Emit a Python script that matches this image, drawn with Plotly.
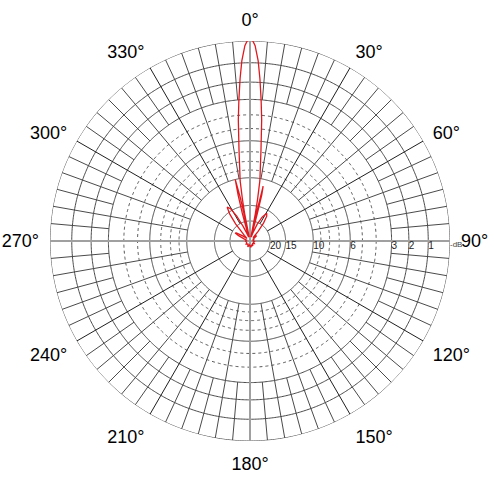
import numpy as np
import plotly.graph_objects as go

# ---------------- data ----------------
# radiation pattern: bearing (deg) and relative level (dB)
pattern_deg = [0, 1.5, 2.6, 3.5, 4.5, 5.5, 6.9, 8.0, 9.3, 10.3, 11.0, 11.6, 12.2, 12.8, 13.5, 14.3,
               15.0, 15.8, 16.5, 19, 23, 27, 31, 34, 37, 40, 43, 47, 51, 55, 60, 70, 80, 95, 105,
               120, 135, 150, 160, 170, 180, 190, 200, 215, 230, 250, 270, 285, 290, 295, 298,
               301, 305, 310, 315, 320, 323, 326, 329, 332, 335, 338, 341, 343.5, 344.5, 345.5,
               346.5, 347.4, 347.9, 348.3, 349, 349.7, 350.7, 352, 353.1, 354.5, 355.5, 356.5,
               357.4, 358.5, 360]
pattern_db = [0.25, -0.2, -0.9, -1.8, -3.0, -4.3, -6.8, -8.6, -10.3, -13.5, -17, -24, -34, -18, -11, -12.5,
              -17, -26, -34, -28, -21, -17.5, -15.8, -16.5, -19, -24, -33, -29, -27.5, -31, -36, -34, -36, -33, -35,
              -32, -35, -31, -34, -30, -32, -34, -30, -35, -32, -35, -33, -35, -30, -24, -21.5,
              -22, -27, -34, -28, -19, -15.5, -13.8, -14.5, -17, -22, -28, -34, -26, -17, -12.5,
              -10, -13, -22, -34, -17, -13.5, -10.3, -8.6, -6.8, -4.3, -3.0, -1.8,
              -0.9, -0.2, 0.25]

# grid rings (dB down)
solid_rings_db = [0, 1, 2, 3, 6, 10, 15, 20]
dotted_rings_db = [4, 5, 7, 8, 9]
ring_labels_db = [20, 15, 10, 6, 3, 2, 1]
angle_ticks = list(range(0, 360, 30))
angle_labels = [f"{a}°" for a in angle_ticks]

# spokes: starting ring (dB down) for 30°, 10° and 5° spokes
spoke_30_start_db = 20
spoke_10_start_db = 10
spoke_5_start_db = 3


def lin(db_down):
    return 10 ** (-db_down / 20.0)


fig = go.Figure()

full = np.linspace(0, 360, 721)

# solid rings
r_s, t_s = [], []
for d in solid_rings_db:
    r_s += [lin(d)] * len(full) + [None]
    t_s += list(full) + [None]
fig.add_trace(go.Scatterpolar(r=r_s, theta=t_s, mode="lines",
                              line=dict(color="#4a4a4a", width=1), hoverinfo="skip", showlegend=False))

# dotted rings
r_d, t_d = [], []
for d in dotted_rings_db:
    r_d += [lin(d)] * len(full) + [None]
    t_d += list(full) + [None]
fig.add_trace(go.Scatterpolar(r=r_d, theta=t_d, mode="lines",
                              line=dict(color="#555555", width=1, dash="dot"), hoverinfo="skip", showlegend=False))

# spokes
r_sp, t_sp = [], []
r_sp30, t_sp30 = [], []
for a in range(0, 360, 5):
    if a % 90 == 0:
        continue
    if a % 30 == 0:
        r_sp30 += [lin(spoke_30_start_db), 1.0, None]
        t_sp30 += [a, a, None]
    elif a % 10 == 0:
        r_sp += [lin(spoke_10_start_db), 1.0, None]
        t_sp += [a, a, None]
    else:
        r_sp += [lin(spoke_5_start_db), 1.0, None]
        t_sp += [a, a, None]
fig.add_trace(go.Scatterpolar(r=r_sp, theta=t_sp, mode="lines",
                              line=dict(color="#4a4a4a", width=1), hoverinfo="skip", showlegend=False))
fig.add_trace(go.Scatterpolar(r=r_sp30, theta=t_sp30, mode="lines",
                              line=dict(color="#1e1e1e", width=1), hoverinfo="skip", showlegend=False))

# main axes (gray)
fig.add_trace(go.Scatterpolar(r=[1.03, 0, 1.03, None, 1.035, 0, 1.015],
                              theta=[0, 0, 180, None, 90, 90, 270], mode="lines",
                              line=dict(color="#a0a0a0", width=2), hoverinfo="skip",
                              showlegend=False, cliponaxis=False))

# ring labels
fig.add_trace(go.Scatterpolar(r=[lin(d) for d in ring_labels_db], theta=[90] * len(ring_labels_db),
                              mode="text", text=[str(d) for d in ring_labels_db],
                              textposition="bottom right",
                              textfont=dict(family="Liberation Sans, Arial", size=10, color="#222222"),
                              hoverinfo="skip", showlegend=False, cliponaxis=False))
fig.add_trace(go.Scatterpolar(r=[1.0], theta=[90], mode="text", text=["-dB"],
                              textposition="bottom right",
                              textfont=dict(family="Liberation Sans, Arial", size=8, color="#444444"),
                              hoverinfo="skip", showlegend=False, cliponaxis=False))

# pattern
fig.add_trace(go.Scatterpolar(r=[10 ** (v / 20.0) for v in pattern_db], theta=pattern_deg,
                              mode="lines", line=dict(color="#e0191f", width=1.3),
                              hoverinfo="skip", showlegend=False, cliponaxis=False))

fig.update_layout(
    width=494, height=480,
    margin=dict(l=50, r=44, t=41, b=39, autoexpand=False),
    paper_bgcolor="white", plot_bgcolor="white",
    polar=dict(
        bgcolor="white",
        domain=dict(x=[0, 1], y=[0, 1]),
        radialaxis=dict(visible=False, range=[0, 1]),
        angularaxis=dict(direction="clockwise", rotation=90,
                         tickmode="array", tickvals=angle_ticks, ticktext=angle_labels,
                         ticks="outside", ticklen=7, tickcolor="rgba(0,0,0,0)",
                         showline=False, showgrid=False,
                         tickfont=dict(family="Liberation Sans, Arial", size=18, color="black")),
    ),
)

fig.write_html("out.html", config={"displayModeBar": False},
               post_script="document.body.style.margin='0';document.body.style.overflow='hidden';")
